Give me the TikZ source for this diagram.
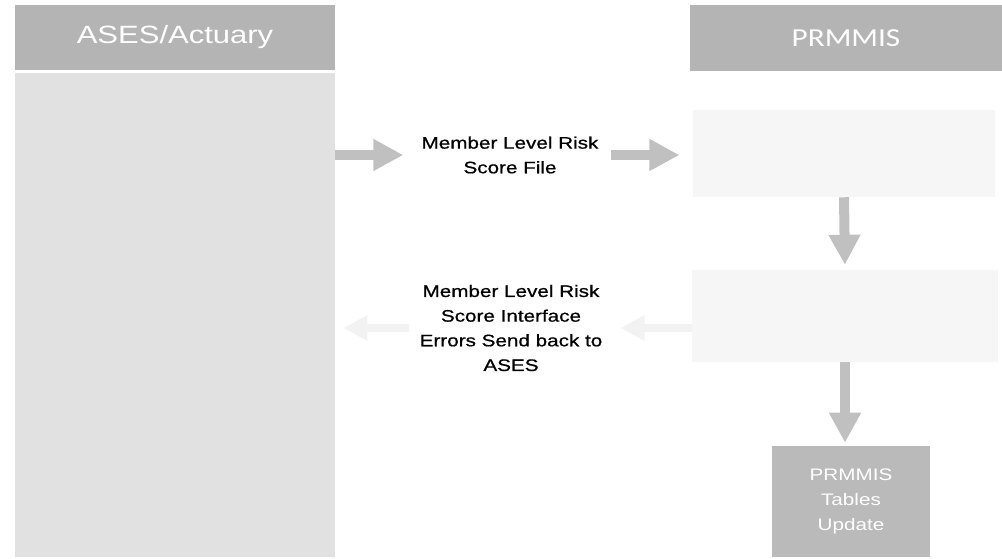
\documentclass[tikz,border=0pt]{standalone}
\usepackage{fontspec}
\setmainfont[FakeStretch=1.24]{Liberation Sans}
\newfontfamily\headfont[FakeStretch=1.2]{Carlito}
\newfontfamily\lblfont[FakeStretch=1.24,FakeBold=0.7]{Liberation Sans}
\usetikzlibrary{arrows.meta}
\definecolor{headGray}{RGB}{180,180,180}
\definecolor{bodyGray}{RGB}{225,225,225}
\definecolor{arrowGray}{RGB}{192,192,192}
\definecolor{paleGray}{RGB}{246,246,246}
\definecolor{tblGray}{RGB}{186,186,186}
\definecolor{fadeGray}{RGB}{242,242,242}
\begin{document}
\begin{tikzpicture}[x=0.75pt,y=-0.75pt,
        lane/.style={fill=#1,inner sep=0pt,minimum width=240pt},
        stagebox/.style={fill=paleGray,inner sep=0pt},
        flowlabel/.style={inner sep=0pt,align=center,font=\lblfont\fontsize{12.5pt}{18.5pt}\selectfont},
        blockarrow/.style={draw=arrowGray,line width=7.5pt,-{Triangle[width=22.5pt,length=22.5pt]}},
        fadearrow/.style={draw=fadeGray,line width=6pt,-{Triangle[width=18pt,length=18pt]}}]
        \useasboundingbox (0,0) rectangle (1002,559);
        % the two swim lanes
        \node[lane=headGray,minimum height=48.75pt,text=white,
            font=\fontsize{18.75pt}{22pt}\selectfont] (asesHead) at (175,37.5) {ASES/Actuary};
        \node[lane=bodyGray,minimum height=363pt] (asesBody) at (175,315) {};
        \node[fill=headGray,inner sep=0pt,minimum width=234pt,minimum height=49.5pt,text=white,
            font=\headfont\fontsize{19.5pt}{22pt}\selectfont] (prmHead) at (846,38) {PRMMIS};
        % PRMMIS steps
        \node[stagebox,minimum width=226.5pt,minimum height=65.25pt] (loadBox) at (844,153.5) {};
        \node[stagebox,minimum width=229.5pt,minimum height=69pt] (checkBox) at (845,316) {};
        \node[fill=tblGray,inner sep=0pt,minimum width=118.5pt,minimum height=83.25pt,
            text=white,align=center,font=\fontsize{12.5pt}{18.75pt}\selectfont] (tblBox) at (851,501.5)
            {PRMMIS\\Tables\\Update};
        % labels between the lanes
        \node[flowlabel] (fileLbl) at (510,155) {Member Level Risk\\Score File};
        \node[flowlabel] (errLbl) at (511,328) {Member Level Risk\\Score Interface\\Errors Send back to\\ASES};
        % arrows
        \draw[blockarrow,shorten >=13.5pt] (asesBody.east |- fileLbl) -- (fileLbl.west);
        \draw[blockarrow,shorten <=9pt,shorten >=10pt] (fileLbl.east) -- (fileLbl.east -| loadBox.west);
        \draw[blockarrow,shorten >=3.75pt] (loadBox.south) -- (checkBox.north);
        \draw[blockarrow,shorten >=2.25pt] (checkBox.south) -- (checkBox.south |- tblBox.north);
        \draw[fadearrow,shorten >=13.5pt] (errLbl.east -| checkBox.west) -- (errLbl.east);
        \draw[fadearrow,shorten <=7.5pt,shorten >=6pt] (errLbl.west) -- (errLbl.west -| asesBody.east);
    \end{tikzpicture}
\end{document}
